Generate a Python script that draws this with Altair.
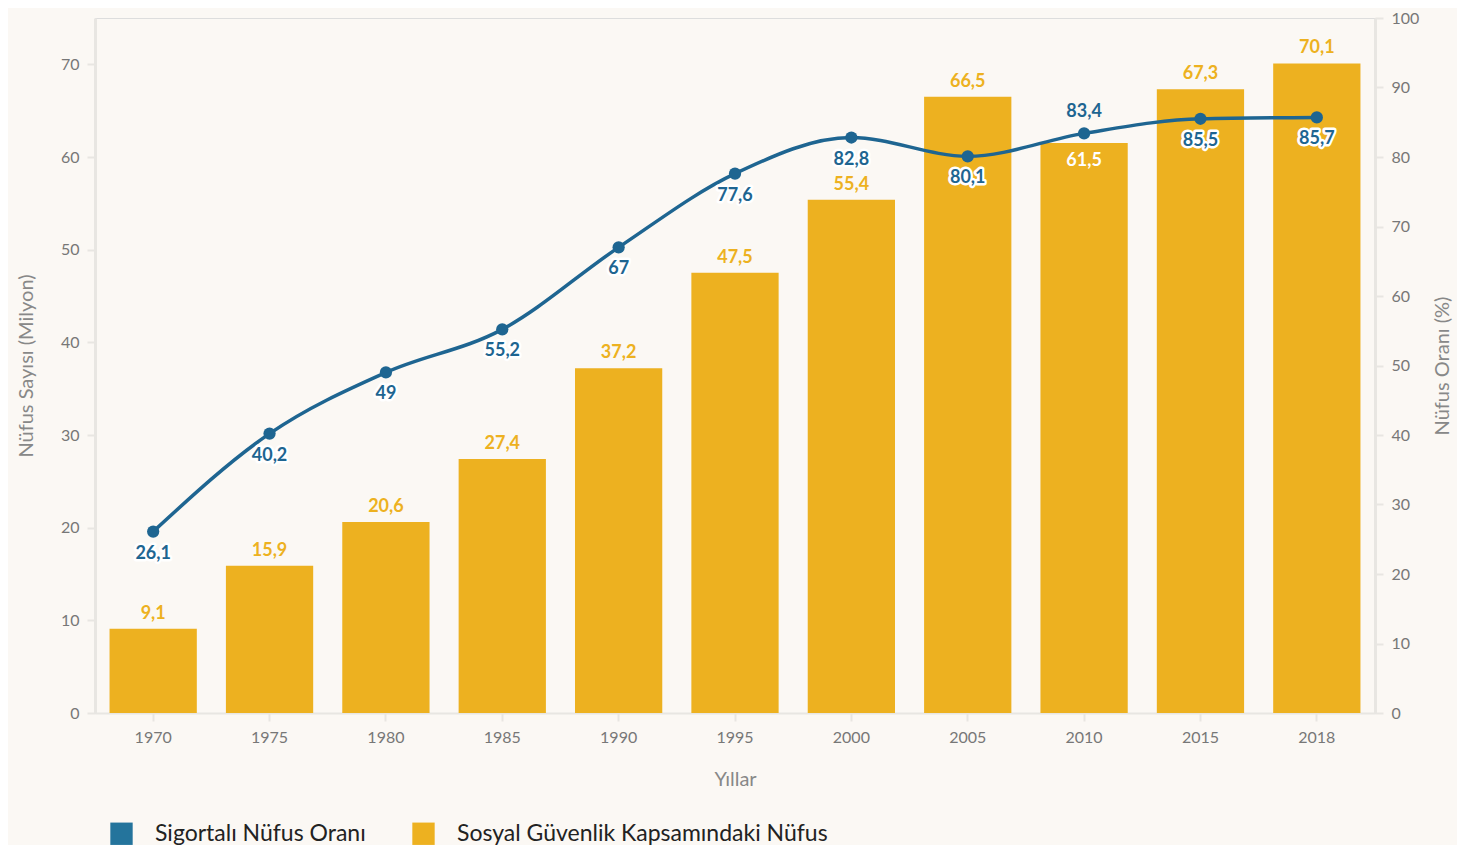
import altair as alt
import pandas as pd

years = ["1970", "1975", "1980", "1985", "1990", "1995", "2000", "2005", "2010", "2015", "2018"]
population = [9.1, 15.9, 20.6, 27.4, 37.2, 47.5, 55.4, 66.5, 61.5, 67.3, 70.1]
rate = [26.1, 40.2, 49, 55.2, 67, 77.6, 82.8, 80.1, 83.4, 85.5, 85.7]

S_LINE = "Sigortalı Nüfus Oranı"
S_BAR = "Sosyal Güvenlik Kapsamındaki Nüfus"

df = pd.DataFrame({"year": years, "pop": population, "rate": rate, "series": S_BAR})

BAR = "#EDB120"
LINE = "#1E6591"
LEG_BLUE = "#24749C"
FONT = "Lato"

x = alt.X("year:N", title="Yıllar",
          scale=alt.Scale(paddingInner=0.25, paddingOuter=0.125),
          axis=alt.Axis(labelAngle=0, labelFontSize=16, labelColor="#777777",
                        titleFontSize=20, titleColor="#888888", titleFontWeight="normal",
                        titlePadding=24, labelPadding=8, tickSize=8,
                        domainColor="#E8E6E2", tickColor="#E8E6E2", domainWidth=2, tickWidth=2))

y_left = alt.Y("pop:Q", title="Nüfus Sayısı (Milyon)",
               scale=alt.Scale(domain=[0, 75], nice=False),
               axis=alt.Axis(values=list(range(0, 80, 10)), labelFontSize=16, labelColor="#777777",
                             titleFontSize=20, titleColor="#888888", titleFontWeight="normal",
                             titlePadding=24, grid=False, tickSize=8, labelPadding=8,
                             domainColor="#E8E6E2", tickColor="#E8E6E2", domainWidth=3, tickWidth=2))

y_right = alt.Y("rate:Q", title="Nüfus Oranı (%)",
                scale=alt.Scale(domain=[0, 100], nice=False),
                axis=alt.Axis(orient="right", values=list(range(0, 110, 10)), labelFontSize=16,
                              labelColor="#777777", titleFontSize=20, titleColor="#888888",
                              titleFontWeight="normal", titleAngle=270, titleBaseline="bottom",
                              titlePadding=34, grid=False, tickSize=8,
                              labelPadding=8, domainColor="#E8E6E2", tickColor="#E8E6E2",
                              domainWidth=3, tickWidth=2))

bars = alt.Chart(df).mark_bar(color=BAR).encode(
    x=x, y=y_left,
    color=alt.Color("series:N", scale=alt.Scale(domain=[S_LINE, S_BAR], range=[LEG_BLUE, BAR]),
                    legend=alt.Legend(title=None, orient="none", legendX=15, legendY=804,
                                      direction="horizontal", symbolType="square", symbolSize=500,
                                      symbolStrokeWidth=0, labelFontSize=23, labelColor="#222222",
                                      labelFont=FONT, columnPadding=46, labelOffset=22, padding=0,
                                      labelLimit=0)),
)

lab_pop = "replace(format(datum.pop, '.1~f'), '.', ',')"
bar_lab_out = alt.Chart(df).transform_filter("datum.year != '2010'").transform_calculate(
    lab=lab_pop
).mark_text(color=BAR, fontWeight="bold", fontSize=18, font=FONT, baseline="bottom", dy=-6).encode(
    x=x, y=y_left, text="lab:N")

bar_lab_in = alt.Chart(df).transform_filter("datum.year == '2010'").transform_calculate(
    lab=lab_pop
).mark_text(color="white", fontWeight="bold", fontSize=18, font=FONT, baseline="top", dy=9).encode(
    x=x, y=y_left, text="lab:N")

left = alt.layer(bars, bar_lab_out, bar_lab_in)

line = alt.Chart(df).mark_line(color=LINE, strokeWidth=3.5, interpolate="monotone").encode(x=x, y=y_right)
pts = alt.Chart(df).mark_point(color=LINE, filled=True, opacity=1, size=150).encode(x=x, y=y_right)

lab_calc = "replace(format(datum.rate, '.1~f'), '.', ',')"
below = alt.Chart(df).transform_filter("datum.year != '2010'").transform_calculate(lab=lab_calc)
above = alt.Chart(df).transform_filter("datum.year == '2010'").transform_calculate(lab=lab_calc)

halo_b = below.mark_text(color="white", stroke="white", strokeWidth=5, strokeJoin="round", fontWeight="bold",
                         fontSize=18, font=FONT, baseline="top", dy=13).encode(x=x, y=y_right, text="lab:N")
txt_b = below.mark_text(color=LINE, fontWeight="bold", fontSize=18, font=FONT, baseline="top", dy=13).encode(
    x=x, y=y_right, text="lab:N")
txt_a = above.mark_text(color=LINE, fontWeight="bold", fontSize=18, font=FONT, baseline="bottom", dy=-12).encode(
    x=x, y=y_right, text="lab:N")

right = alt.layer(line, pts, halo_b, txt_b, txt_a)

chart = alt.layer(left, right).resolve_scale(y="independent").properties(
    width=1280, height=695,
    background="#FBF8F4",
    autosize=alt.AutoSizeParams(type="none"),
    padding={"left": 87, "top": 10, "right": 82, "bottom": 132},
).configure_view(strokeWidth=0, stroke="transparent").configure(font=FONT)

chart.save("out.html", embed_options={"renderer": "svg", "actions": False})
